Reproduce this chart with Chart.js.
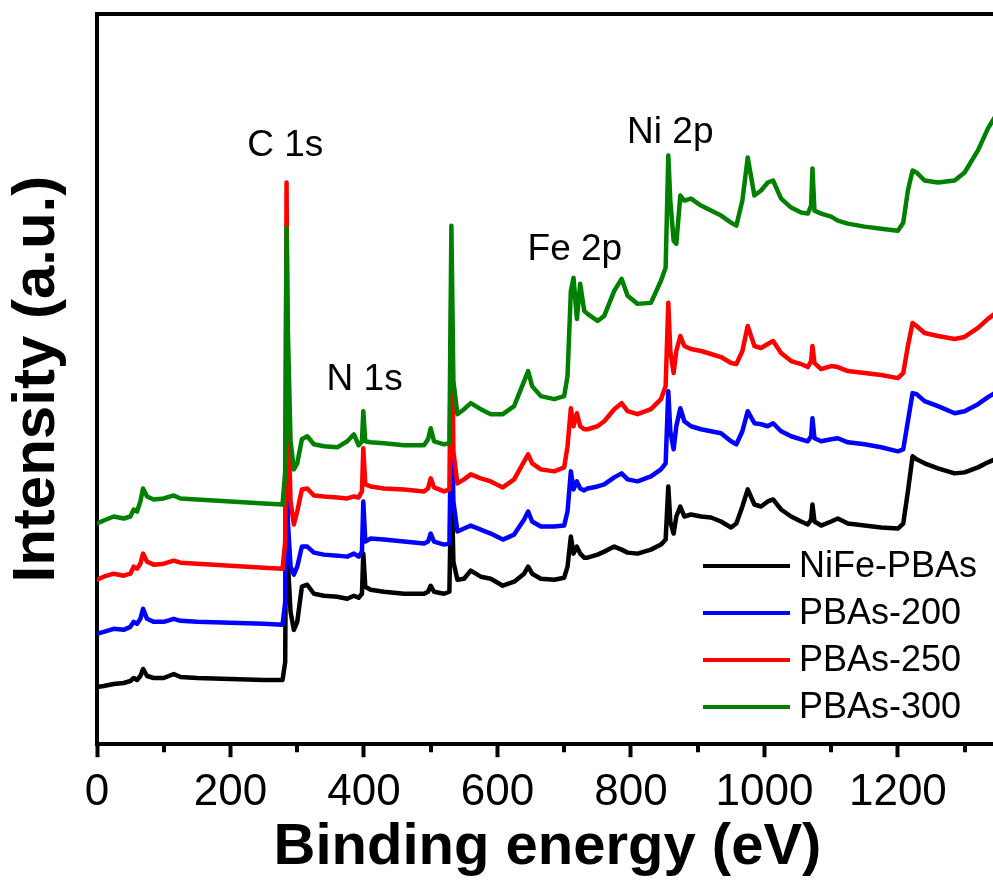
<!DOCTYPE html>
<html>
<head>
<meta charset="utf-8">
<title>XPS survey spectra</title>
<script src="https://cdn.jsdelivr.net/npm/chart.js@4/dist/chart.umd.min.js"></script>
<style>
  html, body { margin: 0; padding: 0; background: #fff; overflow: hidden; }
  #wrap { position: relative; width: 1000px; height: 881px; }
</style>
</head>
<body>
<div id="wrap"><canvas id="xps-chart"></canvas></div>
<script>
// ===== XPS SURVEY SPECTRA =====

// binding energy grid (eV), shared by all four samples
const energies = [
    0, 10, 25, 40, 50, 55, 60, 65, 69, 75,
    85, 100, 115, 125, 150, 200, 250, 278, 282, 284,
    286, 290, 295, 300, 307, 315, 325, 340, 360, 375,
    385, 392, 397, 399, 402, 410, 430, 460, 490, 496,
    500, 505, 520, 528, 531, 534, 540, 550, 560, 575,
    590, 608, 625, 640, 646, 652, 665, 685, 700, 705,
    710, 714, 719, 724, 730, 735, 750, 760, 775, 786,
    795, 810, 830, 845, 852, 856, 859, 864, 868, 874,
    880, 890, 905, 920, 935, 950, 958, 967, 975, 985,
    995, 1005, 1013, 1025, 1040, 1055, 1065, 1070, 1072, 1075,
    1085, 1100, 1110, 1125, 1150, 1175, 1200, 1208, 1215, 1222,
    1228, 1240, 1260, 1285, 1300, 1320, 1335, 1345, 1350
];

// intensities (a.u., stacked with offsets)
const nifePBAs = [
    57, 58, 60, 61, 63, 66, 64, 68, 75, 68,
    66, 66, 70, 67, 66, 65, 64, 64, 82, 342,
    182, 132, 114, 122, 157, 159, 150, 148, 147, 145,
    148, 146, 150, 190, 157, 154, 152, 150, 150, 152,
    158, 152, 150, 152, 272, 182, 164, 165, 173, 167,
    165, 158, 162, 170, 177, 170, 165, 164, 166, 177,
    207, 190, 197, 190, 186, 186, 189, 192, 197, 194,
    191, 190, 194, 199, 204, 257, 222, 210, 227, 237,
    227, 229, 227, 226, 222, 216, 220, 237, 254, 239,
    237, 242, 244, 234, 227, 222, 219, 224, 239, 222,
    218, 222, 225, 220, 218, 216, 215, 220, 252, 287,
    284, 280, 275, 270, 271, 276, 281, 284, 285
];
const pbas200 = [
    110, 112, 115, 114, 117, 122, 120, 125, 135, 125,
    122, 122, 125, 123, 122, 121, 120, 119, 142, 412,
    222, 177, 169, 177, 197, 197, 191, 189, 188, 187,
    190, 187, 192, 242, 202, 205, 204, 202, 200, 202,
    210, 202, 199, 200, 342, 242, 212, 215, 218, 214,
    210, 204, 209, 224, 232, 222, 217, 217, 218, 232,
    272, 254, 262, 255, 253, 255, 257, 259, 266, 270,
    264, 262, 267, 274, 280, 352, 312, 294, 317, 335,
    322, 317, 314, 312, 310, 302, 299, 312, 332, 320,
    319, 317, 320, 312, 307, 304, 302, 307, 325, 305,
    302, 304, 305, 301, 299, 296, 292, 294, 322, 350,
    349, 342, 337, 330, 332, 339, 346, 350, 352
];
const pbas250 = [
    164, 167, 170, 168, 170, 177, 175, 180, 190, 182,
    179, 180, 183, 181, 180, 178, 176, 175, 202, 560,
    342, 242, 219, 232, 254, 255, 248, 247, 246, 245,
    247, 246, 252, 295, 259, 257, 255, 254, 252, 255,
    265, 256, 252, 254, 462, 292, 260, 264, 269, 265,
    262, 256, 264, 282, 289, 280, 274, 272, 276, 297,
    335, 317, 330, 317, 314, 314, 317, 322, 334, 340,
    332, 329, 334, 344, 357, 440, 392, 370, 392, 407,
    397, 394, 392, 389, 386, 380, 379, 392, 417, 397,
    395, 399, 402, 390, 382, 379, 376, 382, 397, 380,
    374, 377, 376, 372, 370, 368, 365, 370, 397, 420,
    417, 410, 407, 404, 406, 415, 424, 429, 431
];
const pbas300 = [
    220, 223, 227, 225, 227, 234, 232, 242, 255, 247,
    244, 245, 248, 245, 244, 242, 240, 239, 272, 515,
    412, 302, 274, 280, 304, 307, 299, 297, 296, 302,
    309, 298, 302, 332, 302, 301, 300, 298, 298, 304,
    315, 302, 299, 300, 517, 362, 329, 334, 340, 334,
    329, 329, 337, 362, 372, 357, 347, 344, 347, 367,
    452, 465, 424, 459, 432, 429, 422, 427, 452, 464,
    447, 439, 440, 462, 475, 587, 542, 502, 499, 547,
    542, 544, 537, 532, 527, 520, 517, 542, 585, 547,
    552, 560, 562, 544, 535, 530, 529, 537, 574, 532,
    529, 526, 522, 519, 516, 514, 512, 520, 552, 572,
    570, 562, 560, 562, 570, 592, 614, 625, 627
];

const seriesNames = ['NiFe-PBAs', 'PBAs-200', 'PBAs-250', 'PBAs-300'];
const seriesColors = ['#000000', '#0000ff', '#ff0000', '#008000'];
const seriesValues = [nifePBAs, pbas200, pbas250, pbas300];

// core-level labels placed at (energy, intensity)
const peakNames = ['C 1s', 'N 1s', 'Fe 2p', 'Ni 2p'];
const peakEnergies = [282, 401, 716, 859];
const peakLevels = [586, 353, 483, 599];

const FONT = "'Liberation Sans', Arial, Helvetica, sans-serif";

function toPoints(values) {
    return energies.map((e, i) => ({ x: e, y: values[i] }));
}

// top frame line + minor ticks on the energy axis
const framePlugin = {
    id: 'frame',
    afterDraw(chart) {
        const { ctx, chartArea } = chart;
        const xs = chart.scales.x;
        ctx.save();
        ctx.strokeStyle = '#000';
        ctx.lineWidth = 4;
        ctx.beginPath();
        ctx.moveTo(chartArea.left - 2, chartArea.top);
        ctx.lineTo(chartArea.right + 2, chartArea.top);
        ctx.stroke();
        ctx.beginPath();
        for (let v = 100; v < xs.max; v += 200) {
            const px = Math.round(xs.getPixelForValue(v));
            ctx.moveTo(px, chartArea.bottom);
            ctx.lineTo(px, chartArea.bottom + 8);
        }
        ctx.stroke();
        ctx.restore();
    }
};

// peak labels and the in-plot legend
const notesPlugin = {
    id: 'notes',
    afterDatasetsDraw(chart) {
        const { ctx } = chart;
        const xs = chart.scales.x, ys = chart.scales.y;
        ctx.save();
        ctx.fillStyle = '#000';
        ctx.font = '37px ' + FONT;
        ctx.textAlign = 'center';
        ctx.textBaseline = 'alphabetic';
        peakNames.forEach((name, i) => {
            ctx.fillText(name, xs.getPixelForValue(peakEnergies[i]), ys.getPixelForValue(peakLevels[i]));
        });

        // legend, bottom right of the plot
        const x0 = 703, lineLen = 87, y0 = 566, rowGap = 47;
        ctx.font = '36px ' + FONT;
        ctx.textAlign = 'left';
        ctx.textBaseline = 'middle';
        seriesNames.forEach((name, i) => {
            const y = y0 + i * rowGap;
            ctx.strokeStyle = seriesColors[i];
            ctx.lineWidth = 4;
            ctx.beginPath();
            ctx.moveTo(x0, y);
            ctx.lineTo(x0 + lineLen, y);
            ctx.stroke();
            ctx.fillStyle = '#000';
            ctx.fillText(name, x0 + lineLen + 9, y + 1);
        });
        ctx.restore();
    }
};

function initXPSChart() {
    const ctx = document.getElementById('xps-chart');

    const datasets = seriesNames.map((name, i) => ({
        label: name,
        data: toPoints(seriesValues[i]),
        borderColor: seriesColors[i],
        backgroundColor: seriesColors[i],
        borderWidth: 4.5,
        borderJoinStyle: 'round',
        borderCapStyle: 'round',
        pointRadius: 0,
        tension: 0,
        order: seriesNames.length - i
    }));

    new Chart(ctx, {
        type: 'line',
        data: { datasets },
        options: {
            responsive: true,
            maintainAspectRatio: false,
            animation: false,
            layout: { padding: { left: 1, right: 2, top: 14, bottom: 0 } },
            plugins: {
                legend: { display: false },
                tooltip: { enabled: false }
            },
            scales: {
                x: {
                    type: 'linear',
                    min: 0,
                    max: 1350,
                    border: { color: '#000', width: 4 },
                    grid: { drawOnChartArea: false, drawTicks: true, tickLength: 13, tickWidth: 4, tickColor: '#000' },
                    ticks: {
                        stepSize: 200,
                        includeBounds: false,
                        padding: 9,
                        color: '#000',
                        font: { family: FONT, size: 44 },
                        callback: (v) => String(v)
                    },
                    title: {
                        display: true,
                        text: 'Binding energy (eV)',
                        color: '#000',
                        font: { family: FONT, size: 58, weight: 'bold', lineHeight: 1 },
                        padding: { top: -9, bottom: 4 }
                    }
                },
                y: {
                    min: 0,
                    max: 728,
                    border: { color: '#000', width: 4 },
                    grid: { display: false, drawTicks: false },
                    ticks: { display: false },
                    title: {
                        display: true,
                        text: 'Intensity (a.u.)',
                        color: '#000',
                        font: { family: FONT, size: 60, weight: 'bold', lineHeight: 1 },
                        padding: { top: 6, bottom: 30 }
                    }
                }
            }
        },
        plugins: [framePlugin, notesPlugin]
    });
}

initXPSChart();
</script>
</body>
</html>
